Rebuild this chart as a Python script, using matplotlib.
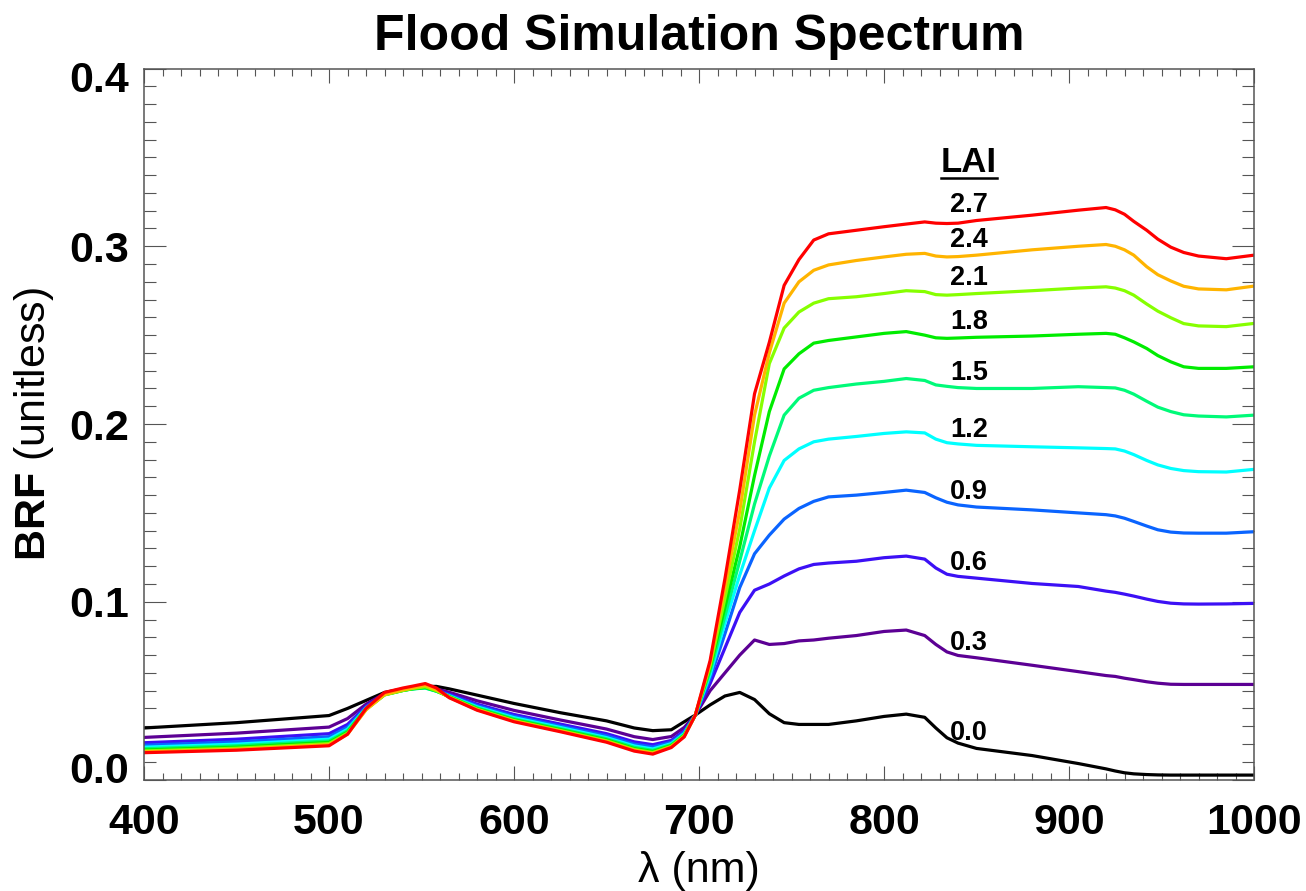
import matplotlib
matplotlib.use("Agg")
import matplotlib.pyplot as plt
from matplotlib.ticker import MultipleLocator, FormatStrFormatter
from matplotlib.lines import Line2D
import matplotlib.transforms as mtransforms

plt.rcParams['font.family'] = ['Liberation Sans', 'DejaVu Sans']
plt.rcParams['mathtext.fontset'] = 'custom'
plt.rcParams['mathtext.bf'] = 'Liberation Sans:bold'
plt.rcParams['mathtext.rm'] = 'Liberation Sans'

# wavelength knots (nm)
wl = [400, 450, 500, 510, 520, 530, 540, 545, 552, 558, 565, 580, 600, 625, 650, 665, 675, 685, 692, 698,
      706, 714, 722, 730, 738, 746, 754, 762, 770, 785, 800, 812, 822, 828, 834, 840, 850, 880, 905, 920,
      925, 930, 935, 942, 948, 955, 962, 970, 985, 1000]

lai_labels = ['0.0', '0.3', '0.6', '0.9', '1.2', '1.5', '1.8', '2.1', '2.4', '2.7']
colors = ['#000000', '#5c0094', '#3c10f5', '#0a64ff', '#00ffff', '#00fa78',
          '#00ec00', '#86ff00', '#ffb400', '#ff0000']

brf_00 = [0.029, 0.032, 0.036, 0.040, 0.0445, 0.049, 0.051, 0.0515, 0.0524, 0.0524, 0.051, 0.0475, 0.0428, 0.0376, 0.033, 0.029, 0.0275, 0.028, 0.0325, 0.0363,
          0.042, 0.047, 0.049, 0.045, 0.037, 0.032, 0.031, 0.031, 0.031, 0.033, 0.0355, 0.0368, 0.035, 0.029, 0.0235, 0.0205, 0.0175, 0.0135, 0.009, 0.006,
          0.0048, 0.0038, 0.0032, 0.0028, 0.0026, 0.0025, 0.0025, 0.0025, 0.0025, 0.0025]
brf_03 = [0.0237, 0.0261, 0.0295, 0.0343, 0.0424, 0.0484, 0.0506, 0.0515, 0.0528, 0.051, 0.0491, 0.0443, 0.0389, 0.0335, 0.0284, 0.0241, 0.0225, 0.0242, 0.0293, 0.0363,
          0.050, 0.060, 0.070, 0.0785, 0.076, 0.0765, 0.078, 0.0785, 0.0795, 0.081, 0.0833, 0.0841, 0.081, 0.076, 0.0718, 0.0698, 0.0685, 0.0643, 0.0607, 0.0585,
          0.058, 0.057, 0.0562, 0.055, 0.0542, 0.0536, 0.0535, 0.0535, 0.0535, 0.0535]
brf_06 = [0.0207, 0.0227, 0.0258, 0.031, 0.0412, 0.0481, 0.0504, 0.0512, 0.0525, 0.0505, 0.048, 0.0424, 0.0366, 0.0312, 0.0258, 0.0212, 0.0196, 0.022, 0.0274, 0.0363,
          0.054, 0.074, 0.094, 0.1065, 0.110, 0.1145, 0.1185, 0.121, 0.1218, 0.1228, 0.1248, 0.1257, 0.124, 0.119, 0.1155, 0.1143, 0.1133, 0.1103, 0.1086, 0.106,
          0.1053, 0.1043, 0.1032, 0.1015, 0.1002, 0.0992, 0.0988, 0.0987, 0.0988, 0.0991]
brf_09 = [0.0193, 0.0212, 0.0241, 0.0295, 0.0407, 0.048, 0.0503, 0.0511, 0.052, 0.050, 0.0475, 0.0416, 0.0356, 0.0301, 0.0246, 0.0199, 0.0183, 0.021, 0.0266, 0.0363,
          0.057, 0.082, 0.108, 0.127, 0.1375, 0.1465, 0.1525, 0.1565, 0.159, 0.160, 0.1615, 0.1628, 0.1615, 0.1585, 0.156, 0.1545, 0.1533, 0.1517, 0.150, 0.149,
          0.1483, 0.147, 0.1452, 0.1426, 0.1405, 0.1392, 0.1387, 0.1386, 0.1386, 0.1394]
brf_12 = [0.0182, 0.0199, 0.0227, 0.0283, 0.0402, 0.0478, 0.0502, 0.051, 0.0515, 0.0497, 0.0471, 0.0409, 0.0348, 0.0293, 0.0236, 0.0189, 0.0172, 0.0202, 0.0259, 0.0363,
          0.059, 0.088, 0.115, 0.140, 0.164, 0.1795, 0.186, 0.190, 0.1915, 0.193, 0.1947, 0.1956, 0.195, 0.1915, 0.1895, 0.1888, 0.188, 0.1872, 0.1866, 0.1862,
          0.186, 0.1848, 0.1828, 0.1795, 0.177, 0.175, 0.1738, 0.1732, 0.173, 0.1745]
brf_15 = [0.0173, 0.019, 0.0217, 0.0274, 0.0399, 0.0477, 0.0502, 0.051, 0.0515, 0.0497, 0.0468, 0.0404, 0.0341, 0.0286, 0.0229, 0.0181, 0.0164, 0.0196, 0.0254, 0.0363,
          0.061, 0.092, 0.123, 0.155, 0.182, 0.205, 0.2145, 0.219, 0.2205, 0.2225, 0.224, 0.2256, 0.2245, 0.222, 0.2212, 0.2205, 0.220, 0.220, 0.221, 0.2205,
          0.2203, 0.219, 0.2168, 0.2128, 0.2095, 0.207, 0.2052, 0.2045, 0.204, 0.205]
brf_18 = [0.0166, 0.0182, 0.0209, 0.0267, 0.0396, 0.0477, 0.0501, 0.051, 0.0518, 0.0498, 0.0466, 0.0399, 0.0336, 0.0281, 0.0223, 0.0174, 0.0158, 0.0191, 0.0249, 0.0363,
          0.063, 0.097, 0.131, 0.171, 0.207, 0.231, 0.2395, 0.2455, 0.247, 0.249, 0.251, 0.252, 0.250, 0.2485, 0.2482, 0.2484, 0.2488, 0.2495, 0.2505, 0.251,
          0.2505, 0.2485, 0.2462, 0.2425, 0.2385, 0.235, 0.2322, 0.2313, 0.2313, 0.2322]
brf_21 = [0.0161, 0.0176, 0.0202, 0.0261, 0.0394, 0.0476, 0.0501, 0.0512, 0.0522, 0.050, 0.0464, 0.0396, 0.0332, 0.0276, 0.0218, 0.0169, 0.0152, 0.0187, 0.0246, 0.0363,
          0.064, 0.102, 0.141, 0.190, 0.234, 0.254, 0.263, 0.268, 0.2705, 0.2716, 0.2734, 0.275, 0.2745, 0.2728, 0.2725, 0.2728, 0.2734, 0.275, 0.2765, 0.2772,
          0.2765, 0.275, 0.2725, 0.2675, 0.2635, 0.2598, 0.2565, 0.2552, 0.2548, 0.2566]
brf_24 = [0.0156, 0.017, 0.0196, 0.0255, 0.0392, 0.0478, 0.0505, 0.0515, 0.053, 0.0505, 0.0462, 0.0393, 0.0329, 0.0273, 0.0214, 0.0165, 0.0148, 0.0184, 0.0243, 0.0363,
          0.0655, 0.108, 0.151, 0.205, 0.240, 0.268, 0.280, 0.2865, 0.2895, 0.292, 0.294, 0.2955, 0.296, 0.2945, 0.294, 0.2942, 0.295, 0.298, 0.300, 0.301,
          0.300, 0.298, 0.295, 0.2885, 0.284, 0.2805, 0.2775, 0.276, 0.2755, 0.2776]
brf_27 = [0.0151, 0.0165, 0.019, 0.0255, 0.040, 0.049, 0.0515, 0.0525, 0.054, 0.0515, 0.046, 0.039, 0.0325, 0.0269, 0.021, 0.016, 0.0143, 0.018, 0.024, 0.0363,
          0.067, 0.113, 0.163, 0.217, 0.246, 0.278, 0.2925, 0.3035, 0.307, 0.309, 0.311, 0.3125, 0.3137, 0.313, 0.3128, 0.313, 0.3145, 0.3175, 0.3203, 0.3218,
          0.3205, 0.318, 0.314, 0.309, 0.304, 0.2995, 0.2965, 0.2945, 0.293, 0.295]

series = [brf_00, brf_03, brf_06, brf_09, brf_12, brf_15, brf_18, brf_21, brf_24, brf_27]

fig = plt.figure(figsize=(13.06, 8.91), dpi=100)
ax = fig.add_axes([0.1103, 0.1251, 0.8499, 0.798])

for vals, c in zip(series, colors):
    ax.plot(wl, vals, color=c, lw=2.3, solid_joinstyle='round')

# LAI labels next to the curves
label_x = 846
i850 = wl.index(850)
for vals, lab in zip(series, lai_labels):
    ax.text(label_x, vals[i850] + 0.0085, lab, ha='center', va='center',
            fontsize=19.5, fontweight='bold')
lai_txt = ax.text(label_x, 0.347, 'LAI', ha='center', va='center',
                  fontsize=25, fontweight='bold')

ax.set_xlim(400, 1000)
ax.set_ylim(0, 0.4)
ax.xaxis.set_major_locator(MultipleLocator(100))
ax.xaxis.set_minor_locator(MultipleLocator(10))
ax.yaxis.set_major_locator(MultipleLocator(0.1))
ax.yaxis.set_minor_locator(MultipleLocator(0.01))
ax.yaxis.set_major_formatter(FormatStrFormatter('%.1f'))

spine_col = '#555555'
for s in ax.spines.values():
    s.set_color(spine_col)
    s.set_linewidth(1.1)
ax.tick_params(which='both', direction='in', top=True, right=True, color=spine_col, width=0.8)
ax.tick_params(axis='x', which='major', length=10, pad=17, labelsize=31)
ax.tick_params(axis='x', which='minor', length=5)
ax.tick_params(axis='y', which='major', length=16, pad=11, labelsize=31)
ax.tick_params(axis='y', which='minor', length=8.6)
for lbl in ax.get_xticklabels() + ax.get_yticklabels():
    lbl.set_fontweight('bold')

ax.set_title('Flood Simulation Spectrum', fontsize=36, fontweight='bold', pad=13)
ax.set_ylabel(r'$\mathbf{BRF}$ (unitless)', fontsize=31, labelpad=9)
ax.set_xlabel('λ (nm)', fontsize=31, labelpad=6)

fig.canvas.draw()

# end labels on the y axis sit slightly inside the range
for t in ax.yaxis.get_major_ticks():
    loc = t.get_loc()
    if abs(loc) < 1e-9:
        t.label1.set_transform(t.label1.get_transform() +
                               mtransforms.ScaledTranslation(0, 0.12, fig.dpi_scale_trans))
    elif abs(loc - 0.4) < 1e-9:
        t.label1.set_transform(t.label1.get_transform() +
                               mtransforms.ScaledTranslation(0, -0.08, fig.dpi_scale_trans))

# underline for "LAI"
bb = lai_txt.get_window_extent()
inv = fig.transFigure.inverted()
p0 = inv.transform((bb.x0, bb.y0 + 1))
p1 = inv.transform((bb.x1, bb.y0 + 1))
fig.add_artist(Line2D([p0[0], p1[0]], [p0[1], p1[1]], color='black', lw=1.8))

fig.savefig('out.png', dpi=100)
